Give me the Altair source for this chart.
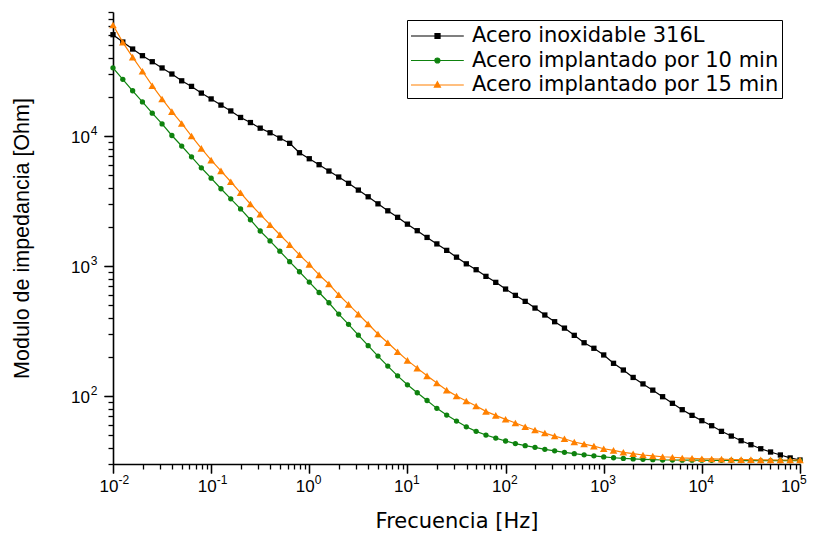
import json
import altair as alt
import pandas as pd

# ---------------- data ----------------
FREQ_HZ = [0.01, 0.01259, 0.01585, 0.01995, 0.02512, 0.03162, 0.03981, 0.05012, 0.0631, 0.07943,
           0.1, 0.1259, 0.1585, 0.1995, 0.2512, 0.3162, 0.3981, 0.5012, 0.631, 0.7943,
           1, 1.259, 1.585, 1.995, 2.512, 3.162, 3.981, 5.012, 6.31, 7.943,
           10, 12.59, 15.85, 19.95, 25.12, 31.62, 39.81, 50.12, 63.1, 79.43,
           100, 125.9, 158.5, 199.5, 251.2, 316.2, 398.1, 501.2, 631, 794.3,
           1000, 1259, 1585, 1995, 2512, 3162, 3981, 5012, 6310, 7943,
           10000, 12590, 15850, 19950, 25120, 31620, 39810, 50120, 63100, 79430,
           100000]

Z_316L = [60200, 52900, 46700, 41500, 37300, 33400, 30000, 26600, 24100, 21400,
          19300, 17300, 15600, 13900, 12700, 11500, 10600, 9650, 8790, 7440,
          6690, 6020, 5380, 4840, 4330, 3840, 3410, 3010, 2660, 2370,
          2100, 1870, 1660, 1480, 1320, 1170, 1040, 937, 833, 749,
          665, 595, 535, 475, 420, 373, 333, 293, 257, 233,
          207, 178.5, 158.5, 139, 124, 111, 98.8, 87.9, 78.5, 71.0,
          64.6, 59.1, 53.5, 49.2, 45.3, 42.2, 39.3, 37.1, 35.2, 33.4, 32.2]

Z_10MIN = [33500, 27300, 22300, 18300, 15000, 12400, 10100, 8380, 6920, 5700,
           4740, 3930, 3290, 2750, 2270, 1860, 1560, 1300, 1080, 904,
           753, 626, 522, 427, 356, 294, 244, 203, 170, 143,
           122, 106, 92.4, 80.4, 71.4, 64.2, 58.0, 53.5, 50.1, 47.5,
           45.1, 43.1, 41.5, 40.3, 38.9, 37.9, 36.9, 36.0, 35.3, 34.7,
           34.0, 33.5, 33.1, 32.8, 32.6, 32.4, 32.2, 32.2, 32.1, 32.1,
           32.1, 32.0, 32.0, 32.0, 31.9, 31.9, 31.9, 31.9, 31.8, 31.8, 31.8]

Z_15MIN = [71400, 52600, 40500, 31500, 24400, 19300, 15400, 12500, 10000, 8040,
           6530, 5400, 4450, 3660, 3000, 2500, 2080, 1740, 1460, 1220,
           1030, 855, 727, 601, 507, 427, 358, 300, 257, 219,
           188, 164, 143, 126, 111, 100, 91.5, 83.8, 76.2, 71.0,
           66.2, 62.0, 58.0, 54.8, 51.9, 49.2, 46.9, 44.3, 42.7, 41.2,
           39.3, 38.2, 36.9, 36.0, 35.2, 34.6, 34.1, 33.8, 33.4, 33.2,
           32.9, 32.8, 32.7, 32.5, 32.4, 32.4, 32.3, 32.3, 32.2, 32.2, 32.2]

SERIES = ["Acero inoxidable 316L", "Acero implantado por 10 min", "Acero implantado por 15 min"]
VALUES = [Z_316L, Z_10MIN, Z_15MIN]

X_MAJOR = [0.01, 0.1, 1, 10, 100, 1000, 10000, 100000]
X_TICK_BASE = "10"
X_TICK_EXPONENTS = ["-2", "-1", "0", "1", "2", "3", "4", "5"]
Y_MAJOR = [100, 1000, 10000]
Y_TICK_BASE = "10"
Y_TICK_EXPONENTS = ["2", "3", "4"]

X_TITLE = "Frecuencia [Hz]"
Y_TITLE = "Modulo de impedancia [Ohm]"

# ---------------- styling ----------------
COLORS = ["#000000", "#0E820E", "#FF8000"]
SHAPES = ["square", "circle", "triangle-up"]
MARKER_SIZES = [28, 28, 58]
# legend glyphs: a line with the series marker in its middle (units of sqrt(size)/2)
LEGEND_PATHS = [
    "M-1,0L3.4,0M1,-0.21L1.42,-0.21L1.42,0.21L1,0.21Z",
    "M-1,0L3.4,0M0.99,0A0.21,0.21,0,1,0,1.41,0A0.21,0.21,0,1,0,0.99,0Z",
    "M-1,0L3.4,0M1.2,-0.27L1.45,0.17L0.95,0.17Z",
]
FONT = "Liberation Sans"
WIDE_FONT = "DejaVu Sans"

x_minor = [m * d for d in [0.01, 0.1, 1, 10, 100, 1000, 10000] for m in range(2, 10)]
y_minor = [m * d for d in [10, 100, 1000, 10000] for m in range(3 if d == 10 else 2, 10)]

rows = []
for s, z in zip(SERIES, VALUES):
    for f, v in zip(FREQ_HZ, z):
        rows.append({"freq": f, "Z": v, "serie": s})
df = pd.DataFrame(rows)

xscale = alt.Scale(type="log", domain=[0.01, 100000], nice=False)
yscale = alt.Scale(type="log", domain=[30, 90000], nice=False)

x_exp_expr = json.dumps(X_TICK_EXPONENTS) + "[round(log(datum.value)/LN10)+2]"
y_exp_expr = json.dumps(Y_TICK_EXPONENTS) + "[round(log(datum.value)/LN10)-2]"

tick_style = dict(grid=False, tickColor="black", tickWidth=1.3, labelColor="black",
                  labelFont=FONT, labelFlush=False, labelOverlap=False)

# the last x label is nudged left so it stays inside the page
x_base_offset = {"condition": {"test": "datum.value > 50000", "value": -10}, "value": -4.5}
x_exp_offset = {"condition": {"test": "datum.value > 50000", "value": -0.5}, "value": 5}

x_major_axis = alt.Axis(orient="bottom", values=X_MAJOR, labelExpr=json.dumps(X_TICK_BASE),
                        title=X_TITLE, tickSize=9, labelFontSize=17, labelPadding=5,
                        labelOffset=x_base_offset,
                        titleFontSize=21, titleFont=WIDE_FONT, titleColor="black",
                        titleFontWeight="normal", titleY=57, titleBaseline="middle",
                        domainColor="black", domainWidth=1.6, **tick_style)
y_major_axis = alt.Axis(orient="left", values=Y_MAJOR, labelExpr=json.dumps(Y_TICK_BASE),
                        title=Y_TITLE, tickSize=9, labelFontSize=17, labelPadding=14.5, labelOffset=1.5,
                        titleFontSize=21.5, titleFont=FONT, titleColor="black",
                        titleFontWeight="normal", titleX=-91, titleBaseline="middle",
                        domainColor="black", domainWidth=1.6, **tick_style)
x_minor_axis = alt.Axis(orient="bottom", values=x_minor, labels=False, title=None, tickSize=5,
                        domain=False, grid=False, tickColor="black", tickWidth=1.3)
y_minor_axis = alt.Axis(orient="left", values=y_minor, labels=False, title=None, tickSize=5,
                        domain=False, grid=False, tickColor="black", tickWidth=1.3)
x_exp_axis = alt.Axis(orient="bottom", values=X_MAJOR, labelExpr=x_exp_expr, title=None,
                      tickSize=9, domain=False, labelFontSize=12, labelAlign="left",
                      labelOffset=x_exp_offset, labelPadding=1, labelBaseline="top", **tick_style)
y_exp_axis = alt.Axis(orient="left", values=Y_MAJOR, labelExpr=y_exp_expr, title=None,
                      tickSize=9, domain=False, labelFontSize=12, labelAlign="right",
                      labelPadding=7, labelOffset=-6, **tick_style)

axis_sets = [(x_major_axis, y_major_axis), (x_minor_axis, y_minor_axis), (x_exp_axis, y_exp_axis)]

layers = []
for k, s in enumerate(SERIES):
    base = alt.Chart(df).transform_filter(alt.datum.serie == s)
    line = base.mark_line(color=COLORS[k], strokeWidth=1.2)
    pts = base.mark_point(shape=SHAPES[k], size=MARKER_SIZES[k], filled=True, opacity=1,
                          color=COLORS[k])
    for mark in (line, pts):
        idx = len(layers)
        if idx < len(axis_sets):
            xa, ya = axis_sets[idx]
        else:
            xa = ya = None
        layers.append(mark.encode(
            x=alt.X("freq:Q", scale=xscale, axis=xa),
            y=alt.Y("Z:Q", scale=yscale, axis=ya),
        ))

legend = alt.Legend(title=None, orient="none", legendX=294, legendY=8, direction="vertical",
                    labelFont=WIDE_FONT, labelFontSize=21, labelColor="black", labelOffset=36,
                    padding=3, strokeColor="black", fillColor="white", symbolSize=576,
                    symbolStrokeWidth=1.2, rowPadding=1.5, labelLimit=500)

leg_df = pd.DataFrame({"serie": SERIES})
legend_layer = alt.Chart(leg_df).transform_filter("false").mark_point(opacity=1, filled=True).encode(
    shape=alt.Shape("serie:N", scale=alt.Scale(domain=SERIES, range=LEGEND_PATHS), legend=legend),
    fill=alt.Fill("serie:N", scale=alt.Scale(domain=SERIES, range=COLORS), legend=legend),
    stroke=alt.Stroke("serie:N", scale=alt.Scale(domain=SERIES, range=COLORS), legend=legend),
)
layers.append(legend_layer)

chart = alt.layer(*layers).resolve_axis(x="independent", y="independent").properties(
    width=687, height=452,
    autosize=alt.AutoSizeParams(type="none"),
    padding={"left": 105, "top": 4, "right": 7, "bottom": 70},
    background="white",
).configure_view(stroke=None).configure_legend(strokeWidth=1)

chart.save("out.html", embed_options={"renderer": "svg", "actions": False})
